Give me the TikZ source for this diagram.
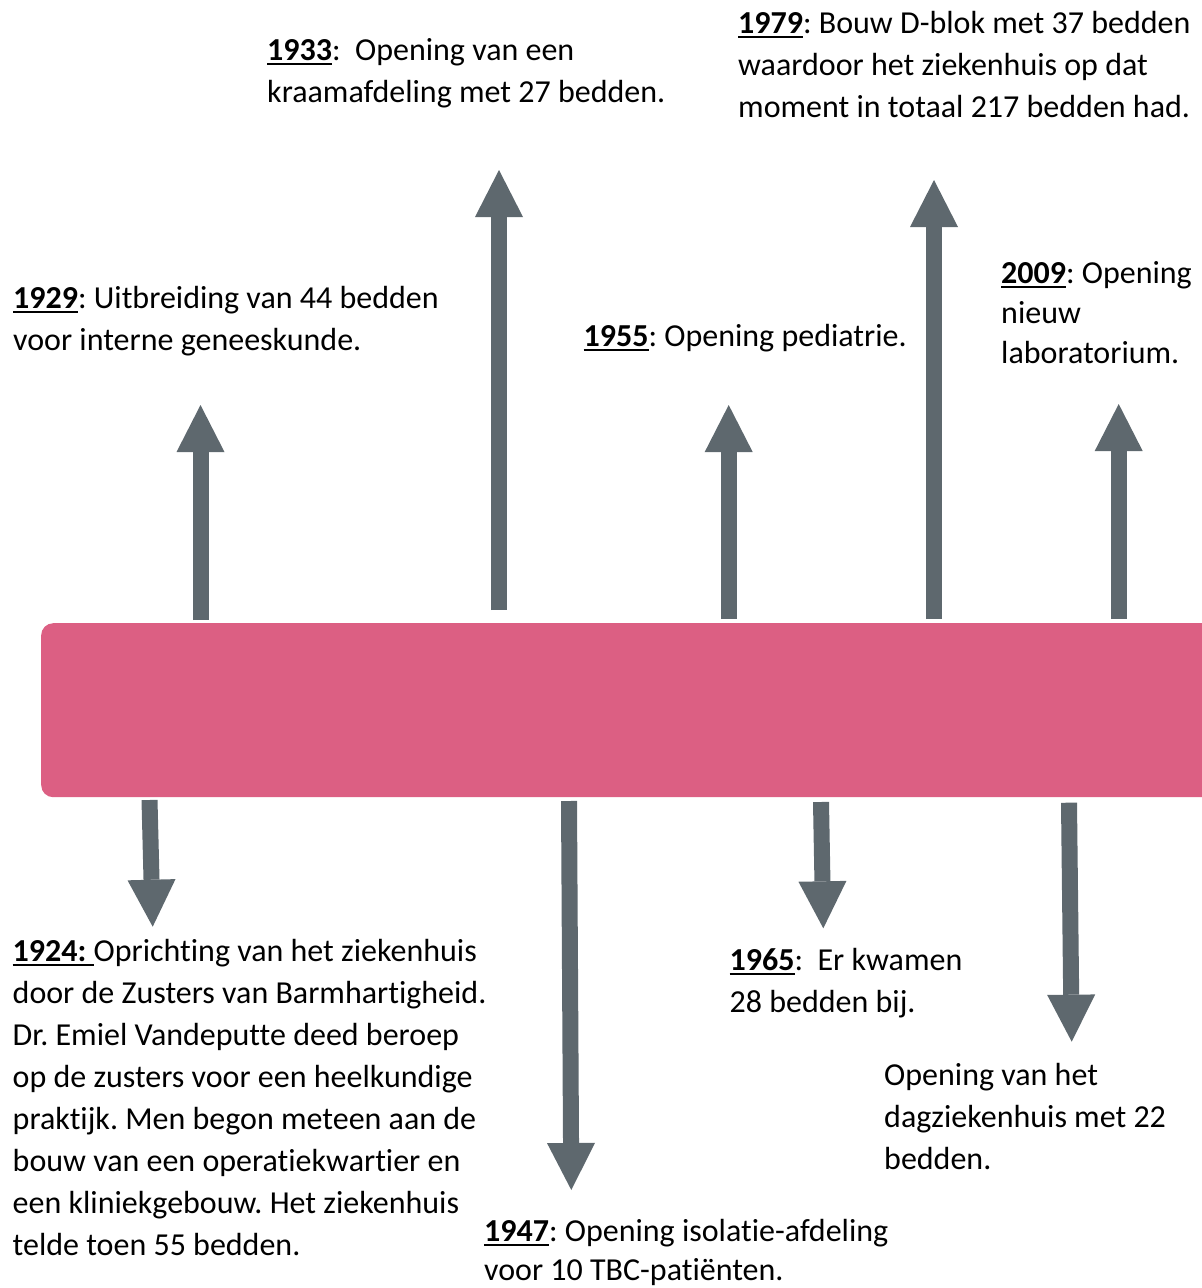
\documentclass[tikz,border=0pt]{standalone}
\usepackage{fontspec}
\setmainfont{Carlito}[Ligatures={NoCommon,NoRare,NoContextual}]
\usetikzlibrary{arrows.meta}
\definecolor{barpink}{HTML}{DC5F83}
\definecolor{arrgray}{HTML}{5E686E}
\newcommand\yr[1]{\setbox0\hbox{\textbf{#1}}\rlap{\rule[-4.5pt]{\wd0}{1.8pt}}\box0}
\newcommand\txtlines[2][42pt]{\fontsize{32}{#1}\selectfont\frenchspacing\begin{tabular}[t]{@{}l@{}}#2\end{tabular}}
\tikzset{
  arr/.style={draw=arrgray, line width=16pt, line cap=butt,
    -{Triangle[width=48pt,length=47pt,line width=0pt]}},
  lbl/.style={anchor=base west, inner sep=0pt, text=black},
  bar/.style={fill=barpink, rounded corners=12pt, inner sep=0pt, anchor=north west,
    minimum width=1200pt, minimum height=174pt}
}
\begin{document}
\begin{tikzpicture}[x=1pt,y=-1pt]
\useasboundingbox (0,0) rectangle (1202,1288);
\node[bar] (bar) at (41,623) {};
% up arrows
\coordinate (u1s) at (200.5,620); \coordinate (u1e) at (200.5,405);
\coordinate (u2s) at (499,610);   \coordinate (u2e) at (499,170);
\coordinate (u3s) at (728.7,619); \coordinate (u3e) at (728.7,405);
\coordinate (u4s) at (934,619);   \coordinate (u4e) at (934,180);
\coordinate (u5s) at (1118.7,619);\coordinate (u5e) at (1118.7,404);
% down arrows
\coordinate (d1s) at (149.5,800); \coordinate (d1e) at (152.7,926.7);
\coordinate (d2s) at (569,801);   \coordinate (d2e) at (571.3,1190);
\coordinate (d3s) at (821,802);   \coordinate (d3e) at (823.3,928.3);
\coordinate (d4s) at (1069,802.7);\coordinate (d4e) at (1071.7,1041.7);
\foreach \n in {u1,u2,u3,u4,u5,d1,d2,d3,d4} \draw[arr] (\n s) -- (\n e);
% labels
\node[lbl] (t1933) at (267,60) {\txtlines{\yr{1933}:\ \ Opening van een\\kraamafdeling met 27 bedden.}};
\node[lbl] (t1979) at (738,33.5) {\txtlines{\yr{1979}: Bouw D-blok met 37 bedden\\waardoor het ziekenhuis op dat\\moment in totaal 217 bedden had.}};
\node[lbl] (t1929) at (13,308.5) {\txtlines{\yr{1929}: Uitbreiding van 44 bedden\\voor interne geneeskunde.}};
\node[lbl] (t1955) at (583.5,346.7) {\txtlines{\yr{1955}: Opening pediatrie.}};
\node[lbl] (t2009) at (1001,283.3) {\txtlines[40pt]{\yr{2009}: Opening\\nieuw\\laboratorium.}};
\node[lbl] (t1924) at (12.5,961.7) {\txtlines{\yr{1924:\ }Oprichting van het ziekenhuis\\door de Zusters van Barmhartigheid.\\Dr. Emiel Vandeputte deed beroep\\op de zusters voor een heelkundige\\praktijk. Men begon meteen aan de\\bouw van een operatiekwartier en\\een kliniekgebouw. Het ziekenhuis\\telde toen 55 bedden.}};
\node[lbl] (t1965) at (729.5,970) {\txtlines{\yr{1965}:\ \ Er kwamen\\28 bedden bij.}};
\node[lbl] (tdag) at (884,1085) {\txtlines{Opening van het\\dagziekenhuis met 22\\bedden.}};
\node[lbl] (t1947) at (484,1241.5) {\txtlines[38.5pt]{\yr{1947}: Opening isolatie-afdeling\\voor 10 TBC-patiënten.}};
\end{tikzpicture}
\end{document}
